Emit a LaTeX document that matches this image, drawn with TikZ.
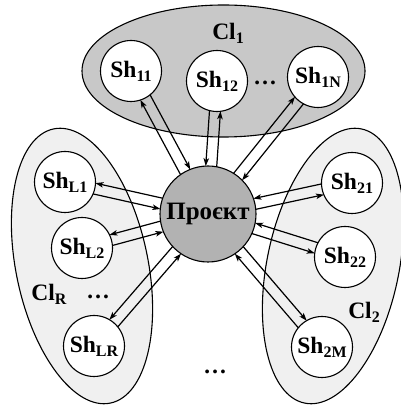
\documentclass[tikz,border=0pt]{standalone}
\usepackage{fontspec}
\setmainfont{Liberation Serif}
\usetikzlibrary{shapes.geometric,calc,arrows.meta}
\definecolor{topgray}{RGB}{200,200,200}
\definecolor{midgray}{RGB}{178,178,178}
\definecolor{sidegray}{RGB}{240,240,240}
\newcommand\lkoff{5.5pt}
\newcommand\lksP{47.6pt}
\newcommand\lksS{29.9pt}
\newcommand\shn[2]{#1\raisebox{-3.8pt}{\fontsize{16}{16}\selectfont\bfseries #2}}
% out-line on +90 side
\newcommand\lkA[1]{%
  \draw[conn,shorten <=\lksP,shorten >=\lksS] ($(P)!\lkoff!90:(#1)$) -- ($(#1)!\lkoff!-90:(P)$);
  \draw[conn,shorten <=\lksS,shorten >=\lksP] ($(#1)!\lkoff!90:(P)$) -- ($(P)!\lkoff!-90:(#1)$);
}
% out-line on -90 side
\newcommand\lkB[1]{%
  \draw[conn,shorten <=\lksP,shorten >=\lksS] ($(P)!\lkoff!-90:(#1)$) -- ($(#1)!\lkoff!90:(P)$);
  \draw[conn,shorten <=\lksS,shorten >=\lksP] ($(#1)!\lkoff!-90:(P)$) -- ($(P)!\lkoff!90:(#1)$);
}
\begin{document}
\begin{tikzpicture}[x=1pt,y=1pt,
  every node/.style={font=\fontsize{23.5}{23.5}\selectfont\bfseries},
  cluster/.style={draw,line width=1.1pt,ellipse,inner sep=0pt},
  shnode/.style={draw,line width=1.1pt,circle,fill=white,inner sep=0pt,minimum size=61pt},
  conn/.style={line width=1.2pt,-{Stealth[length=8pt,width=5.5pt,inset=2pt]}},
  lbl/.style={inner sep=0pt}]
\useasboundingbox (0,0) rectangle (400,407);
% clusters
\node[cluster,fill=topgray,minimum width=283pt,minimum height=132pt] (cl1) at (223.5,336) {};
\node[cluster,fill=sidegray,minimum width=132pt,minimum height=280pt,rotate=11.7] (clR) at (82,141) {};
\node[cluster,fill=sidegray,minimum width=132pt,minimum height=280pt,rotate=-11.7] (cl2) at (333,141) {};
% labels
\node[lbl] (lcl1) at (228,374) {\shn{Cl}{1}};
\node[lbl] (lclR) at (49,113) {\shn{Cl}{R}};
\node[lbl] (lcl2) at (364,95) {\shn{Cl}{2}};
\node[lbl] (d1) at (265,324) {…};
\node[lbl] (d2) at (98,110) {…};
\node[lbl] (d3) at (215,35) {…};
% center
\node[draw,line width=1.1pt,circle,fill=midgray,inner sep=0pt,minimum size=96pt,font=\fontsize{25}{25}\selectfont\bfseries] (P) at (208,193) {Проєкт};
% shards
\node[shnode] (s11) at (131,336) {\shn{Sh}{11}};
\node[shnode] (s12) at (217,326) {\shn{Sh}{12}};
\node[shnode] (s1N) at (318,330) {\shn{Sh}{1N}};
\node[shnode] (sL1) at (65,225) {\shn{Sh}{L1}};
\node[shnode] (sL2) at (82,159) {\shn{Sh}{L2}};
\node[shnode] (sLR) at (94,61) {\shn{Sh}{LR}};
\node[shnode] (s21) at (352,224) {\shn{Sh}{21}};
\node[shnode] (s22) at (345,150) {\shn{Sh}{22}};
\node[shnode] (s2M) at (322,60) {\shn{Sh}{2M}};
% connectors
\lkA{s11}
\lkB{s12}
\lkA{s1N}
\lkB{sL1}
\lkB{sL2}
\lkB{sLR}
\lkB{s21}
\lkB{s22}
\lkA{s2M}
\end{tikzpicture}
\end{document}
